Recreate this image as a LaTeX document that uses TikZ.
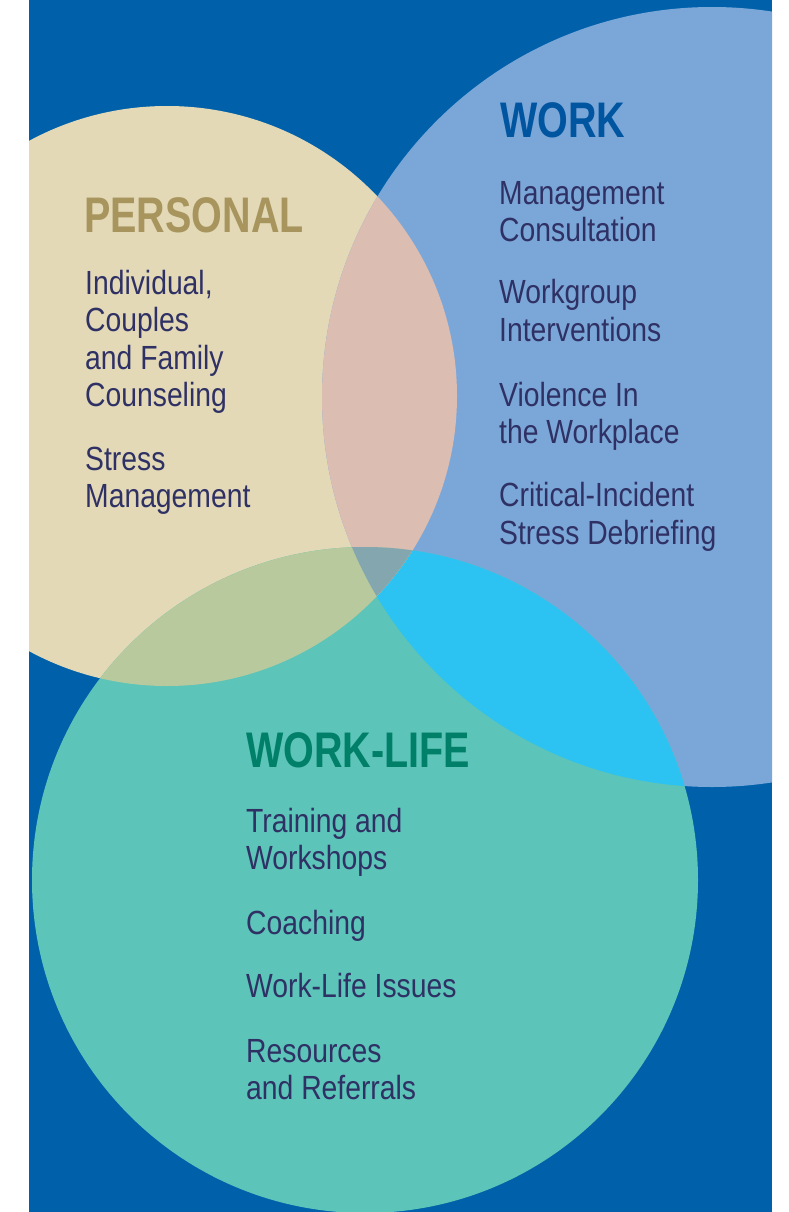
\documentclass[tikz,border=0pt]{standalone}
\usepackage{fontspec}
\newfontfamily\bodyfont{Liberation Sans}[FakeStretch=0.845]
\newfontfamily\headfont{Liberation Sans}[FakeStretch=0.79]

\definecolor{bgblue}{HTML}{0061AA}
\definecolor{tanfill}{HTML}{E3D9B7}
\definecolor{workfill}{HTML}{7BA7D8}
\definecolor{lifefill}{HTML}{5CC4B8}
\definecolor{tanwork}{HTML}{DBBDB2}
\definecolor{tanlife}{HTML}{B8C99E}
\definecolor{worklife}{HTML}{2CC3F3}
\definecolor{allthree}{HTML}{84A7AF}
\definecolor{personalhead}{HTML}{A8955D}
\definecolor{workhead}{HTML}{0055A1}
\definecolor{lifehead}{HTML}{007F69}
\definecolor{bodytext}{HTML}{2F3165}

% the three circles
\def\personalcircle{(167,396) circle[radius=290pt]}
\def\workcircle{(712,397) circle[radius=390pt]}
\def\lifecircle{(365,880) circle[radius=333pt]}

\tikzset{
  item/.style={anchor=base west, inner sep=0pt, text=bodytext,
    font=\bodyfont\fontsize{33.5}{37}\selectfont},
  heading/.style={anchor=base west, inner sep=0pt,
    font=\headfont\bfseries\fontsize{50}{54}\selectfont},
}

\begin{document}
\begin{tikzpicture}[x=1pt,y=-1pt]
\path[use as bounding box] (0,0) rectangle (788,1212);
\fill[bgblue] (29,0) rectangle (772,1212);

\begin{scope}
  \clip (29,0) rectangle (772,1212);
  \fill[tanfill] \personalcircle;
  \fill[workfill] \workcircle;
  \fill[lifefill] \lifecircle;
  % work and work-life overlap
  \begin{scope}
    \clip \workcircle;
    \fill[worklife] \lifecircle;
  \end{scope}
  % overlaps inside the personal circle
  \begin{scope}
    \clip \personalcircle;
    \fill[tanwork] \workcircle;
    \fill[tanlife] \lifecircle;
    \clip \workcircle;
    \fill[allthree] \lifecircle;
  \end{scope}
\end{scope}

% PERSONAL
\node[heading, text=personalhead] (hp) at (84,232) {PERSONAL};
\node[item] (p1) at (85,294.7) {Individual,};
\node[item] (p2) at (85,331.7) {Couples};
\node[item] (p3) at (85,369) {and Family};
\node[item] (p4) at (85,406.7) {Counseling};
\node[item] (p5) at (85,470.7) {Stress};
\node[item] (p6) at (85,507) {Management};

% WORK
\node[heading, text=workhead] (hw) at (500,138) {WORK};
\node[item] (w1) at (499,204) {Management};
\node[item] (w2) at (499,241) {Consultation};
\node[item] (w3) at (499,303.3) {Workgroup};
\node[item] (w4) at (499,341.7) {Interventions};
\node[item] (w5) at (499,406) {Violence In};
\node[item] (w6) at (499,443.3) {the Workplace};
\node[item] (w7) at (499,506.7) {Critical-Incident};
\node[item] (w8) at (499,544) {Stress Debriefing};

% WORK-LIFE
\node[heading, text=lifehead] (hl) at (246,767.3) {WORK-LIFE};
\node[item] (l1) at (246,832.7) {Training and};
\node[item] (l2) at (246,869.3) {Workshops};
\node[item] (l3) at (246,934.3) {Coaching};
\node[item] (l4) at (246,997.7) {Work-Life Issues};
\node[item] (l5) at (246,1062.3) {Resources};
\node[item] (l6) at (246,1099.3) {and Referrals};
\end{tikzpicture}
\end{document}
